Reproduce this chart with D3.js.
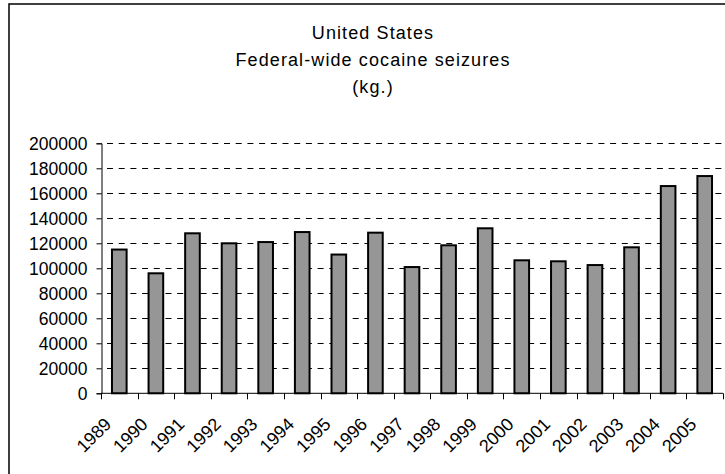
<!DOCTYPE html>
<html>
<head>
<meta charset="utf-8">
<script src="https://cdn.jsdelivr.net/npm/d3@7"></script>
<style>
  body { margin: 0; background: #fff; }
  text { font-family: "Liberation Sans", Arial, sans-serif; fill: #000; }
</style>
</head>
<body>
<div id="chart"></div>
<script>
// data
var years = ["1989","1990","1991","1992","1993","1994","1995","1996","1997",
             "1998","1999","2000","2001","2002","2003","2004","2005"];
var seizures = [115000, 96000, 128000, 120000, 121000, 129000, 111000, 128500, 101000,
                118400, 132000, 106400, 105600, 102600, 116800, 165800, 173800];
var yTicks = [0, 20000, 40000, 60000, 80000, 100000, 120000, 140000, 160000, 180000, 200000];
var titleLines = ["United States", "Federal-wide cocaine seizures", "(kg.)"];

var width = 725, height = 474;
var plot = {left: 101, right: 723, top: 143.3, bottom: 393.3};

var svg = d3.select("#chart").append("svg")
    .attr("width", width)
    .attr("height", height);

// outer chart frame (runs off the picture at right and bottom)
svg.append("rect")
    .attr("x", 9).attr("y", 4)
    .attr("width", 900).attr("height", 700)
    .attr("fill", "none")
    .attr("stroke", "#000")
    .attr("stroke-width", 1.5);

// title
svg.append("g")
    .attr("class", "title")
  .selectAll("text")
    .data(titleLines)
  .enter().append("text")
    .attr("x", 373)
    .attr("y", function(d, i){ return 39 + i * 27; })
    .attr("text-anchor", "middle")
    .style("font-size", "18px")
    .style("letter-spacing", "1.1px")
    .text(function(d){ return d; });

var x = d3.scaleBand()
    .domain(years)
    .range([plot.left, plot.right])
    .paddingInner(0.6)
    .paddingOuter(0.3);

var y = d3.scaleLinear()
    .domain([0, 200000])
    .range([plot.bottom, plot.top]);

// dashed gridlines
svg.append("g")
    .attr("class", "grid")
  .selectAll("line")
    .data(yTicks.filter(function(d){ return d > 0; }))
  .enter().append("line")
    .attr("x1", plot.left).attr("x2", plot.right)
    .attr("y1", function(d){ return Math.round(y(d)) + 0.5; })
    .attr("y2", function(d){ return Math.round(y(d)) + 0.5; })
    .attr("stroke", "#000")
    .attr("stroke-width", 1)
    .attr("stroke-dasharray", "6,5.7")
    .attr("stroke-dashoffset", -6);

// bars
svg.append("g")
    .attr("class", "bars")
  .selectAll("rect")
    .data(seizures)
  .enter().append("rect")
    .attr("x", function(d, i){ return x(years[i]); })
    .attr("y", function(d){ return y(d); })
    .attr("width", x.bandwidth())
    .attr("height", function(d){ return y(0) - y(d); })
    .attr("fill", "#969696")
    .attr("stroke", "#000")
    .attr("stroke-width", 2);

// y axis
var yAxis = d3.axisLeft(y)
    .tickValues(yTicks)
    .tickSize(5)
    .tickPadding(9)
    .tickFormat(d3.format("d"));

var gy = svg.append("g")
    .attr("class", "y axis")
    .attr("transform", "translate(" + (plot.left + 0.5) + ",0)")
    .call(yAxis);
gy.select(".domain").attr("stroke", "#000");
gy.selectAll("text")
    .style("font-size", "17.5px")
    .attr("dy", "0.36em");

// x axis: ticks sit between categories
var step = x.step();
var boundaries = years.map(function(d){ return x(d) + x.bandwidth() / 2 - step / 2; });
boundaries.push(plot.right);

var gx = svg.append("g")
    .attr("class", "x axis");
gx.append("line")
    .attr("x1", plot.left).attr("x2", plot.right)
    .attr("y1", plot.bottom).attr("y2", plot.bottom)
    .attr("stroke", "#000");
gx.selectAll(".tick")
    .data(boundaries)
  .enter().append("line")
    .attr("class", "tick")
    .attr("x1", function(d){ return Math.round(d) + 0.5; })
    .attr("x2", function(d){ return Math.round(d) + 0.5; })
    .attr("y1", plot.bottom).attr("y2", plot.bottom + 6)
    .attr("stroke", "#000");
gx.selectAll(".label")
    .data(years)
  .enter().append("text")
    .attr("class", "label")
    .attr("text-anchor", "end")
    .attr("transform", function(d){
      return "translate(" + (x(d) + x.bandwidth() / 2 - 7) + "," + (plot.bottom + 32) + ") rotate(-45)";
    })
    .style("font-size", "18px")
    .text(function(d){ return d; });
</script>
</body>
</html>
